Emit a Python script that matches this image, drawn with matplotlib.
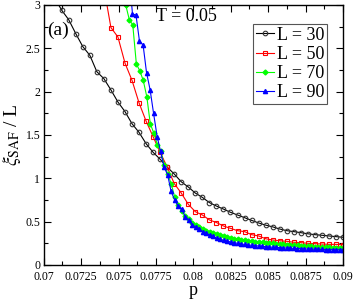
import matplotlib
matplotlib.use("Agg")
import matplotlib.pyplot as plt
import numpy as np
from matplotlib.ticker import MultipleLocator

plt.rcParams['font.family'] = ['Liberation Serif', 'DejaVu Serif']
plt.rcParams['mathtext.fontset'] = 'stix'

# L = 30 and L = 50 share a coarse p grid, L = 70 and L = 90 a finer one
p_coarse = np.round(np.linspace(0.07073, 0.09, 42), 5)
p_green = np.round(np.linspace(0.07525, 0.09, 64), 5)
p_blue = np.round(np.linspace(0.0757, 0.09, 62), 5)

xi_30 = [3.08, 2.94, 2.83, 2.67, 2.52, 2.42, 2.23, 2.15, 2.02, 1.88, 1.77,
         1.63, 1.53, 1.40, 1.30, 1.22, 1.13, 1.05, 0.96, 0.90, 0.83,
         0.78, 0.72, 0.68, 0.645, 0.608, 0.577, 0.546, 0.515, 0.485, 0.46,
         0.44, 0.415, 0.396, 0.385, 0.373, 0.36, 0.35, 0.343, 0.335, 0.327,
         0.32]
xi_50 = [None] * 7 + [3.2, 2.74, 2.63, 2.33, 2.13, 1.87, 1.66, 1.48, 1.30,
         1.13, 0.94, 0.83, 0.70, 0.615, 0.577, 0.52, 0.49, 0.45, 0.423,
         0.396, 0.385, 0.35, 0.335, 0.303, 0.288, 0.28, 0.273, 0.262, 0.258,
         0.25, 0.246, 0.242, 0.238, 0.238, 0.234]
xi_70 = [3.15, 3.0, 2.83, 2.77, 2.32, 2.24, 2.13, 1.94, 1.63, 1.52, 1.39,
         1.31, 1.15, 1.05, 0.93, 0.78, 0.69, 0.62, 0.57, 0.53, 0.48,
         0.46, 0.435, 0.415, 0.395, 0.38, 0.37, 0.36, 0.35, 0.338, 0.325,
         0.315, 0.305, 0.30, 0.293, 0.287, 0.281, 0.277, 0.271, 0.266, 0.261,
         0.257, 0.253, 0.249, 0.245, 0.241, 0.238, 0.235, 0.231, 0.228, 0.225,
         0.222, 0.22, 0.217, 0.214, 0.212, 0.209, 0.207, 0.204, 0.202, 0.199,
         0.197, 0.195, 0.193]
xi_90 = [3.35, 2.90, 2.88, 2.58, 2.54, 2.22, 2.02, 1.75, 1.48, 1.31, 1.13,
         1.04, 0.85, 0.75, 0.68, 0.65, 0.557, 0.52, 0.46, 0.44, 0.42,
         0.384, 0.365, 0.346, 0.33, 0.308, 0.295, 0.285, 0.275, 0.265, 0.257,
         0.25, 0.243, 0.237, 0.232, 0.227, 0.223, 0.219, 0.215, 0.211, 0.208,
         0.205, 0.203, 0.20, 0.198, 0.196, 0.194, 0.192, 0.19, 0.188, 0.186,
         0.184, 0.182, 0.181, 0.18, 0.179, 0.178, 0.177, 0.176, 0.175, 0.174,
         0.173]

xi_50 = np.array([np.nan if v is None else v for v in xi_50])

fig = plt.figure(figsize=(3.54, 3.0), dpi=100)
ax = fig.add_axes([0.1235, 0.1167, 0.8455, 0.8667])

ax.plot(p_coarse, xi_30, '-o', color='black', mfc='none', mec='#333333',
        ms=3.3, mew=0.8, lw=0.8, label='L = 30')
ax.plot(p_coarse, xi_50, '-s', color='red', mfc='none', mec='red',
        ms=3.0, mew=0.8, lw=0.8, label='L = 50')
ax.plot(p_green, xi_70, '-D', color='#00ff00', mfc='#00ff00', mec='#00ff00',
        ms=2.5, lw=0.8, label='L = 70')
ax.plot(p_blue, xi_90, '-^', color='blue', mfc='blue', mec='blue',
        ms=3.0, lw=0.8, label='L = 90')

ax.set_xlim(0.07, 0.09)
ax.set_ylim(0, 3)
ax.xaxis.set_major_locator(MultipleLocator(0.0025))
ax.xaxis.set_minor_locator(MultipleLocator(0.00125))
ax.yaxis.set_major_locator(MultipleLocator(0.5))
ax.yaxis.set_minor_locator(MultipleLocator(0.25))
ax.xaxis.set_major_formatter(plt.FuncFormatter(lambda v, _: ('%g' % round(v, 5))))
ax.yaxis.set_major_formatter(plt.FuncFormatter(lambda v, _: ('%g' % v)))
ax.tick_params(which='both', direction='in', top=True, right=True,
               labelsize=8.5)
ax.tick_params(axis='x', pad=4.5)
ax.tick_params(axis='y', pad=2.5)
ax.tick_params(which='major', length=5, width=0.8)
ax.tick_params(which='minor', length=3, width=0.8)
for s in ax.spines.values():
    s.set_linewidth(1.0)

ax.set_xlabel('p', fontsize=13, labelpad=-1)
ax.set_ylabel(r'$\xi_{\mathrm{SAF}}$ / L', fontsize=14, labelpad=2)

ax.text(0.01, 0.935, '(a)', transform=ax.transAxes, fontsize=14,
        va='top', ha='left')
ax.text(0.375, 0.99, 'T = 0.05', transform=ax.transAxes, fontsize=13,
        va='top', ha='left')

leg = ax.legend(loc='upper right', bbox_to_anchor=(0.946, 0.927), fontsize=13,
                handlelength=1.0, handletextpad=0.15, labelspacing=0.12,
                borderpad=0.15, borderaxespad=0, fancybox=False,
                framealpha=1, edgecolor='#555555')
leg.get_frame().set_linewidth(0.8)

fig.savefig('out.png', dpi=100)
